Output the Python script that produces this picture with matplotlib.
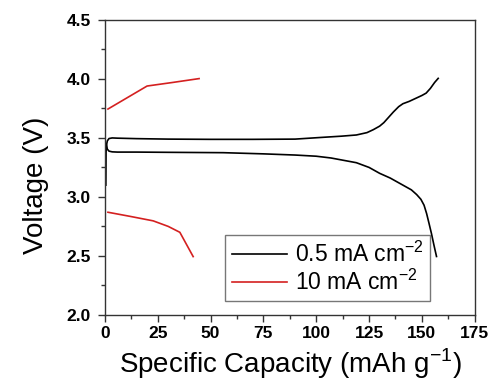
import numpy as np
import matplotlib
matplotlib.use("Agg")
import matplotlib.pyplot as plt
from matplotlib.ticker import MultipleLocator

plt.rcParams['font.family'] = ['Liberation Sans', 'DejaVu Sans']
plt.rcParams['mathtext.fontset'] = 'custom'
plt.rcParams['mathtext.rm'] = 'Liberation Sans'

# 0.5 mA cm-2 (black): charge and discharge branches
charge_x = [0.5, 0.6, 0.8, 1.2, 2.0, 3.5, 6, 15, 30, 50, 70, 90, 103, 112, 119, 124, 127, 130, 132, 134, 136.5, 139, 141, 144, 147, 150, 152, 154, 156, 157.7]
charge_v = [3.10, 3.38, 3.44, 3.475, 3.495, 3.50, 3.498, 3.494, 3.49, 3.488, 3.488, 3.49, 3.505, 3.515, 3.525, 3.545, 3.57, 3.60, 3.63, 3.67, 3.72, 3.765, 3.79, 3.81, 3.835, 3.86, 3.88, 3.92, 3.97, 4.005]
discharge_x = [0.8, 1.2, 2.0, 3.5, 6, 15, 30, 56, 75, 90, 100, 107, 113, 119, 125, 130, 135, 141, 145, 147.5, 149.5, 151, 152.2, 153.3, 154.5, 155.7, 156.9]
discharge_v = [3.44, 3.405, 3.388, 3.382, 3.38, 3.38, 3.378, 3.375, 3.365, 3.355, 3.345, 3.33, 3.31, 3.29, 3.25, 3.20, 3.16, 3.10, 3.06, 3.02, 2.98, 2.93, 2.86, 2.78, 2.69, 2.59, 2.495]

# 10 mA cm-2 (red)
fast_charge_x = [1.5, 20, 32, 44.6]
fast_charge_v = [3.745, 3.94, 3.97, 4.003]
fast_discharge_x = [1.5, 12, 22.9, 30, 35.5, 41.8]
fast_discharge_v = [2.87, 2.835, 2.797, 2.75, 2.70, 2.494]

fig = plt.figure(figsize=(4.92, 3.84), dpi=100)
ax = fig.add_axes([0.213, 0.180, 0.752, 0.768])

ax.plot(charge_x, charge_v, color='black', lw=1.2, label='0.5 mA cm$^{\\mathregular{-2}}$')
ax.plot(discharge_x, discharge_v, color='black', lw=1.2)
ax.plot(fast_charge_x, fast_charge_v, color='#d42020', lw=1.2, label='10 mA cm$^{\\mathregular{-2}}$')
ax.plot(fast_discharge_x, fast_discharge_v, color='#d42020', lw=1.2)

ax.set_xlim(0, 175)
ax.set_ylim(2.0, 4.5)
ax.xaxis.set_major_locator(MultipleLocator(25))
ax.xaxis.set_minor_locator(MultipleLocator(12.5))
ax.yaxis.set_major_locator(MultipleLocator(0.5))
ax.yaxis.set_minor_locator(MultipleLocator(0.25))
ax.tick_params(which='major', direction='out', length=5, width=1, labelsize=12.5, pad=3, color='#333333')
ax.tick_params(axis='y', which='major', pad=5)
ax.tick_params(which='minor', direction='out', length=3, width=1, color='#333333')
for lbl in ax.get_xticklabels() + ax.get_yticklabels():
    lbl.set_fontweight('bold')
for s in ax.spines.values():
    s.set_linewidth(1.0)
    s.set_color('#333333')

fig.text(0.591, 0.029, 'Specific Capacity (mAh g$^{\\mathregular{-1}}$)', fontsize=20,
         ha='center', va='baseline')
fig.text(0.073, 0.518, 'Voltage (V)', fontsize=20, rotation=90,
         ha='center', va='center')

leg = ax.legend(loc='upper left', bbox_to_anchor=(0.324, 0.271), fontsize=16.5,
                handlelength=2.4, frameon=True, fancybox=False, borderpad=0.3,
                labelspacing=0.1, handletextpad=0.35, borderaxespad=0)
leg.get_frame().set_edgecolor('#555555')
leg.get_frame().set_linewidth(1.0)

fig.savefig('out.png', dpi=100)
